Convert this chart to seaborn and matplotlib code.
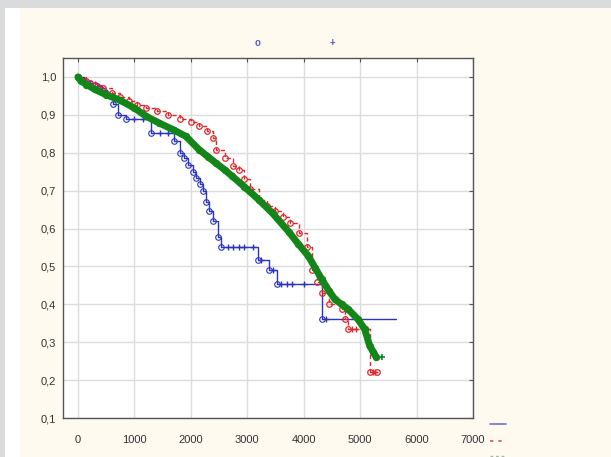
import matplotlib
matplotlib.use("Agg")
import matplotlib.pyplot as plt
from matplotlib.patches import Rectangle
from matplotlib.lines import Line2D
import seaborn as sns
import pandas as pd

# group 1 (blue) - steps
blue_t = [0, 100, 212, 330, 420, 507, 624, 712, 860, 1300, 1700, 1800, 1880, 1950, 2030, 2100,
          2155, 2220, 2270, 2330, 2400, 2480, 2540, 3186, 3392, 3534, 4320, 5630]
blue_s = [1.0, 0.99, 0.985, 0.976, 0.965, 0.954, 0.928, 0.90, 0.888, 0.853, 0.83, 0.80, 0.785, 0.767,
          0.75, 0.733, 0.718, 0.70, 0.67, 0.647, 0.62, 0.577, 0.55, 0.516, 0.49, 0.453, 0.362, 0.362]
blue_cens_t = [1000, 1150, 1450, 1600, 2650, 2750, 2850, 2950, 3100, 3250, 3450, 3600, 3700, 3800, 4000, 4400]
blue_cens_s = [0.888, 0.888, 0.853, 0.853, 0.55, 0.55, 0.55, 0.55, 0.55, 0.516, 0.49, 0.453, 0.453,
               0.453, 0.453, 0.362]

# group 2 (red)
red_t = [0, 150, 300, 450, 600, 750, 900, 1050, 1200, 1400, 1600, 1800, 2000, 2150, 2280, 2385, 2442,
         2600, 2750, 2852, 2950, 3050, 3215, 3350, 3500, 3625, 3750, 3908, 4050, 4155, 4230, 4320, 4450,
         4670, 4730, 4790, 5170, 5300]
red_s = [1.0, 0.99, 0.98, 0.97, 0.957, 0.946, 0.936, 0.927, 0.919, 0.91, 0.90, 0.89, 0.88, 0.87, 0.858,
         0.84, 0.808, 0.785, 0.765, 0.755, 0.73, 0.705, 0.676, 0.66, 0.645, 0.63, 0.615, 0.589, 0.55, 0.49,
         0.46, 0.43, 0.40, 0.387, 0.36, 0.336, 0.222, 0.222]
red_cens_t = [4850, 4930, 5080, 5130, 5230, 5270]
red_cens_s = [0.336, 0.336, 0.336, 0.336, 0.222, 0.222]

# all cases (green)
green_t = [0, 50, 150, 300, 500, 739, 1000, 1210, 1444, 1700, 1914, 2148, 2300, 2442, 2600, 2734, 2950,
           3204, 3450, 3732, 3900, 4085, 4200, 4320, 4450, 4555, 4670, 4789, 4965, 5082, 5170, 5230,
           5287]
green_s = [1.0, 0.99, 0.98, 0.967, 0.953, 0.939, 0.918, 0.896, 0.878, 0.86, 0.843, 0.808, 0.79, 0.773,
           0.755, 0.738, 0.71, 0.676, 0.64, 0.592, 0.56, 0.527, 0.497, 0.466, 0.435, 0.413, 0.40, 0.387,
           0.36, 0.334, 0.29, 0.275, 0.26]
green_cens_t = [5390]
green_cens_s = [0.26]

x_ticks = [0, 1000, 2000, 3000, 4000, 5000, 6000, 7000]
y_ticks = [0.1, 0.2, 0.3, 0.4, 0.5, 0.6, 0.7, 0.8, 0.9, 1.0]
y_labels = ["0,1", "0,2", "0,3", "0,4", "0,5", "0,6", "0,7", "0,8", "0,9", "1,0"]

BLUE = "#2a34c0"
RED = "#e0262a"
GREEN = "#13861a"

sns.set_style("whitegrid")
plt.rcParams["font.family"] = ["Liberation Sans", "DejaVu Sans"]

fig = plt.figure(figsize=(6.11, 4.57), dpi=100, facecolor="#d9dbdd")
fig.add_artist(Rectangle((5 / 611, 0), 1, 1 - 8 / 457, transform=fig.transFigure,
                         facecolor="white", edgecolor="none", zorder=-10))
fig.add_artist(Rectangle((20 / 611, 0), 1, 1 - 8 / 457, transform=fig.transFigure,
                         facecolor="#fffaf0", edgecolor="none", zorder=-9))

ax = fig.add_axes([63 / 611, 1 - 418 / 457, 410 / 611, 360 / 457])
ax.set_facecolor("white")

blue_df = pd.DataFrame({"t": blue_t, "s": blue_s})
red_df = pd.DataFrame({"t": red_t, "s": red_s})
green_df = pd.DataFrame({"t": green_t, "s": green_s})

sns.lineplot(data=blue_df, x="t", y="s", ax=ax, estimator=None, drawstyle="steps-post",
             color=BLUE, lw=1, marker="o", markersize=4, markerfacecolor="none",
             markeredgecolor=BLUE, markeredgewidth=0.8, markevery=list(range(len(blue_t) - 1)),
             zorder=3)
sns.scatterplot(x=blue_cens_t, y=blue_cens_s, ax=ax, marker="+", color=BLUE, s=18,
                linewidth=1, zorder=3)

sns.lineplot(data=red_df, x="t", y="s", ax=ax, estimator=None, drawstyle="steps-post",
             color=RED, lw=1, ls=(0, (3, 2)), marker="o", markersize=4, markerfacecolor="none",
             markeredgecolor=RED, markeredgewidth=0.9, zorder=4)
sns.scatterplot(x=red_cens_t, y=red_cens_s, ax=ax, marker="+", color=RED, s=20,
                linewidth=1, zorder=4)

sns.lineplot(data=green_df, x="t", y="s", ax=ax, estimator=None, color=GREEN, lw=5,
             marker="o", markersize=4.5, markeredgecolor=GREEN, zorder=5)
ax.plot([green_t[-1], green_cens_t[0]], [green_s[-1], green_cens_s[0]], color=GREEN, lw=1, zorder=5)
sns.scatterplot(x=green_cens_t, y=green_cens_s, ax=ax, marker="+", color=GREEN, s=22,
                linewidth=1.2, zorder=5)

ax.set_xlim(-265, 6960)
ax.set_ylim(0.1, 1.05)
ax.set_xticks(x_ticks)
ax.set_yticks(y_ticks)
ax.set_yticklabels(y_labels)
ax.set_xlabel("")
ax.set_ylabel("")
ax.grid(True, color="#dcdcdc", lw=1)
for sp in ax.spines.values():
    sp.set_visible(True)
    sp.set_color("#555555")
    sp.set_linewidth(1)
ax.tick_params(direction="in", length=3, width=0.8, color="#555555", top=True, right=True,
               labelsize=8, labelcolor="#333333")
ax.tick_params(axis="x", pad=12)
ax.tick_params(axis="y", pad=5)

# censoring symbols above the plot
fig.text(258 / 611, 1 - 43 / 457, "o", color="#5a5ac0", fontsize=7, fontweight="bold",
         ha="center", va="center")
fig.text(332 / 611, 1 - 43 / 457, "+", color="#5a5ac0", fontsize=7, fontweight="bold",
         ha="center", va="center")

# legend handles, bottom right
fig.add_artist(Line2D([490 / 611, 506 / 611], [1 - 424 / 457] * 2, transform=fig.transFigure,
                      color="#7070d0", lw=1.2))
fig.add_artist(Line2D([490 / 611, 506 / 611], [1 - 441 / 457] * 2, transform=fig.transFigure,
                      color="#e05050", lw=1.2, ls=(0, (2, 3))))
fig.add_artist(Line2D([490 / 611, 506 / 611], [1 - 456 / 457] * 2, transform=fig.transFigure,
                      color="#a8b8a8", lw=1.0, ls=(0, (2, 2))))

fig.savefig("out.png", dpi=100, facecolor=fig.get_facecolor())
